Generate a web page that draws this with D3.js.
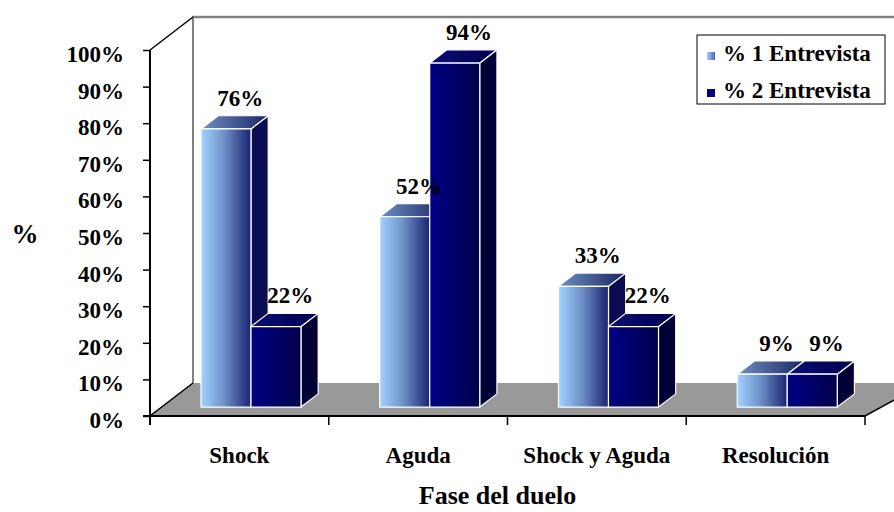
<!DOCTYPE html>
<html>
<head>
<meta charset="utf-8">
<script src="https://cdn.jsdelivr.net/npm/d3@7"></script>
<style>
  body { margin: 0; background: #fff; }
  svg text { font-family: "Liberation Serif", "DejaVu Serif", serif; font-weight: 700; fill: #000; }
</style>
</head>
<body>
<svg id="chart" width="894" height="512"></svg>
<script>
// Phases of grief, share of cases at each interview
const categories = ["Shock", "Aguda", "Shock y Aguda", "Resolución"];
const series = ["% 1 Entrevista", "% 2 Entrevista"];
const entrevista1 = [76, 52, 33, 9];
const entrevista2 = [22, 94, 22, 9];
const yTicks = [0, 10, 20, 30, 40, 50, 60, 70, 80, 90, 100];
const xTitle = "Fase del duelo";
const yTitle = "%";

const values = [entrevista1, entrevista2];
const FONT = '"Liberation Serif", "DejaVu Serif", serif';

const svg = d3.select("#chart");
const defs = svg.append("defs");

// Oblique 3-D projection: depth z in [0,1] shifts right and up
const DX = 43, DY = 33;
const x = d3.scaleBand().domain(categories).range([150, 865]);
const barW = 50;
const inner = d3.scaleBand().domain(series)
  .range([(x.bandwidth() - 2 * barW) / 2, (x.bandwidth() + 2 * barW) / 2]);
const y = d3.scaleLinear().domain([0, 100]).range([416, 50]);
const proj = (px, v, z) => [px + DX * z, y(v) - DY * z];
const Z0 = 0.27, Z1 = 0.67;
const poly = pts => pts.map(p => p.join(",")).join(" ");

function label(sel) {
  return sel.attr("font-family", FONT).attr("font-weight", 700).attr("fill", "#000");
}

function grad(id, stops) {
  const g = defs.append("linearGradient").attr("id", id)
    .attr("x1", 0).attr("x2", 1).attr("y1", 0).attr("y2", 0);
  stops.forEach(([o, c]) => g.append("stop").attr("offset", o).attr("stop-color", c));
}
grad("f0", [[0, "#a2d2ff"], [0.45, "#6f93c9"], [1, "#1b2471"]]);
grad("t0", [[0, "#6f8fc2"], [1, "#1a2463"]]);
grad("f1", [[0, "#000086"], [1, "#00004a"]]);
grad("t1", [[0, "#0a0f78"], [1, "#00004c"]]);
grad("lg0", [[0, "#a2d2ff"], [1, "#4a68a8"]]);
const sideFill = ["#0a0c52", "#000036"];

// Walls and floor
const xr = x.range();
const wall = svg.append("g");
// back wall edges
wall.append("line")
  .attr("x1", proj(xr[0], 0, 1)[0]).attr("y1", proj(xr[0], 0, 1)[1])
  .attr("x2", proj(xr[0], 100, 1)[0]).attr("y2", proj(xr[0], 100, 1)[1] - 1)
  .attr("stroke", "#808080").attr("stroke-width", 2);
wall.append("line")
  .attr("x1", proj(xr[0], 100, 1)[0] - 1).attr("y1", proj(xr[0], 100, 1)[1])
  .attr("x2", proj(xr[1], 100, 1)[0]).attr("y2", proj(xr[1], 100, 1)[1])
  .attr("stroke", "#808080").attr("stroke-width", 2.5);
// left wall top edge
wall.append("line")
  .attr("x1", proj(xr[0], 100, 0)[0]).attr("y1", proj(xr[0], 100, 0)[1])
  .attr("x2", proj(xr[0], 100, 1)[0]).attr("y2", proj(xr[0], 100, 1)[1])
  .attr("stroke", "#000").attr("stroke-width", 1.5);
// floor
const floorRightBack = [xr[1] + DX * 1.4, y(0) - DY];
wall.append("polygon")
  .attr("points", poly([proj(xr[0], 0, 0), proj(xr[1], 0, 0), floorRightBack, proj(xr[0], 0, 1)]))
  .attr("fill", "#999999");
wall.append("polyline")
  .attr("points", poly([proj(xr[0], 0, 1), proj(xr[0], 0, 0), proj(xr[1], 0, 0), floorRightBack]))
  .attr("fill", "none").attr("stroke", "#000").attr("stroke-width", 1.5);

// Bars, drawn left to right so each covers its neighbour's side face
const bars = svg.append("g");
categories.forEach((c, i) => {
  series.forEach((s, k) => {
    const v = values[k][i];
    const x0 = x(c) + inner(s), x1 = x0 + inner.bandwidth();
    const g = bars.append("g").attr("stroke", "#fff").attr("stroke-width", 1.2)
      .attr("stroke-linejoin", "round");
    g.append("polygon").attr("fill", sideFill[k])
      .attr("points", poly([proj(x1, 0, Z0), proj(x1, 0, Z1), proj(x1, v, Z1), proj(x1, v, Z0)]));
    g.append("polygon").attr("fill", `url(#t${k})`)
      .attr("points", poly([proj(x0, v, Z0), proj(x1, v, Z0), proj(x1, v, Z1), proj(x0, v, Z1)]));
    g.append("polygon").attr("fill", `url(#f${k})`)
      .attr("points", poly([proj(x0, 0, Z0), proj(x1, 0, Z0), proj(x1, v, Z0), proj(x0, v, Z0)]));
  });
});

// Value labels above each bar
categories.forEach((c, i) => {
  series.forEach((s, k) => {
    const v = values[k][i];
    const cx = x(c) + inner(s) + inner.bandwidth() / 2;
    const p = proj(cx, v, Z1);
    svg.append("text").call(label).attr("x", p[0] - 3).attr("y", p[1] - 10)
      .attr("text-anchor", "middle").attr("font-size", 23)
      .text(v + "%");
  });
});

// Value axis on the front-left edge
const yAxis = svg.append("g").attr("transform", `translate(${xr[0]},0)`)
  .call(d3.axisLeft(y).tickValues(yTicks).tickFormat(d => d + "%").tickSize(7).tickPadding(19));
yAxis.attr("font-family", FONT).attr("font-size", 23);
yAxis.select(".domain").attr("stroke", "#000").attr("stroke-width", 2)
  .attr("d", `M0,${y(100)}V${y(0) + 9}`);
yAxis.selectAll(".tick line").attr("stroke", "#000").attr("stroke-width", 1.5);
yAxis.selectAll(".tick text").call(label).attr("dy", "0.5em").attr("font-size", 23);

// Category axis: ticks at band edges, labels at band centres
const edges = categories.map(c => x(c)).concat([xr[1]]);
svg.append("g").selectAll("line").data(edges).join("line")
  .attr("x1", d => d).attr("x2", d => d).attr("y1", y(0)).attr("y2", y(0) + 9)
  .attr("stroke", "#000").attr("stroke-width", 1.5);
svg.append("line").attr("x1", xr[0] - 7).attr("x2", xr[1]).attr("y1", y(0)).attr("y2", y(0))
  .attr("stroke", "#000").attr("stroke-width", 2);
svg.append("g").selectAll("text").data(categories).join("text").call(label)
  .attr("x", d => x(d) + x.bandwidth() / 2).attr("y", 463)
  .attr("text-anchor", "middle").attr("font-size", 23).text(d => d);

// Axis titles
svg.append("text").call(label).attr("x", (xr[0] + xr[1]) / 2 - 10).attr("y", 504)
  .attr("text-anchor", "middle").attr("font-size", 26).text(xTitle);
svg.append("text").call(label).attr("x", 25).attr("y", 243)
  .attr("text-anchor", "middle").attr("font-size", 27).text(yTitle);

// Legend
const lg = svg.append("g").attr("transform", "translate(697,35)");
lg.append("rect").attr("width", 188).attr("height", 69)
  .attr("fill", "#fff").attr("stroke", "#000").attr("stroke-width", 1);
series.forEach((s, k) => {
  const row = lg.append("g").attr("transform", `translate(0,${17 + k * 37})`);
  row.append("rect").attr("x", 10).attr("y", 0).attr("width", 8).attr("height", 8)
    .attr("fill", k === 0 ? "url(#lg0)" : "#000080");
  row.append("text").call(label).attr("x", 26).attr("y", 9).attr("font-size", 23).text(s);
});
</script>
</body>
</html>
